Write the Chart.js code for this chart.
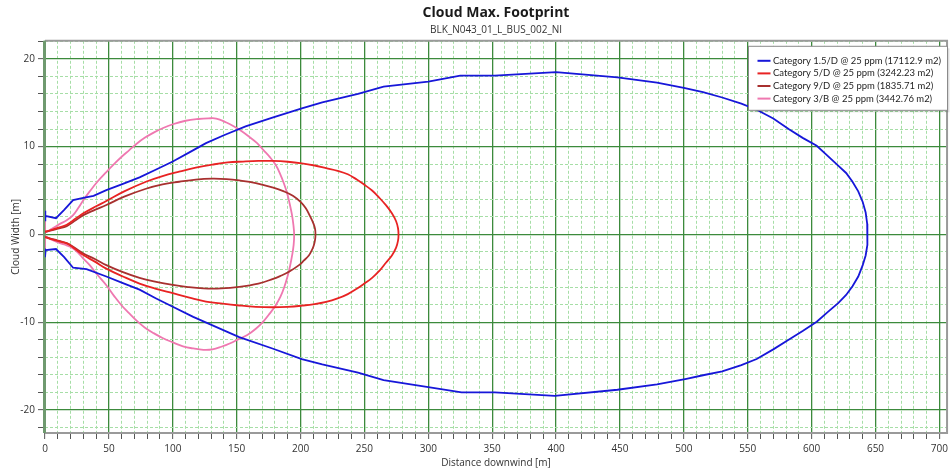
<!DOCTYPE html>
<html><head><meta charset="utf-8">
<script src="https://cdn.jsdelivr.net/npm/chart.js@4.4.0/dist/chart.umd.min.js"></script>
<style>html,body{margin:0;padding:0;background:#fff;}#wrap{width:952px;height:471px;}</style>
</head><body><div id="wrap"><canvas id="c" width="952" height="471"></canvas></div>
<script>
// ---------- data ----------
const chartTitle = 'Cloud Max. Footprint';
const chartSubtitle = 'BLK_N043_01_L_BUS_002_NI';
const xAxisTitle = 'Distance downwind [m]';
const yAxisTitle = 'Cloud Width [m]';
const seriesLabels = [
  'Category 1.5/D @ 25 ppm (17112.9 m2)',
  'Category 5/D @ 25 ppm (3242.23 m2)',
  'Category 9/D @ 25 ppm (1835.71 m2)',
  'Category 3/B @ 25 ppm (3442.76 m2)'
];
const seriesColors = ['#1717d9', '#e82323', '#a8302f', '#ef78b0'];

const cat15D_x = [0, 0, 0.5, 8.6, 15, 22, 30, 38, 48, 60, 74, 87, 100, 113, 126, 140, 157, 178, 201, 217, 245, 265, 300, 325, 352, 400, 448, 479, 500, 515, 530, 545, 557, 570, 582, 593, 604, 613, 621, 627, 632, 636.5, 640, 642.3, 643.5, 643.8,
  643.5, 642.3, 640, 636.5, 632, 627, 621, 613, 604, 593, 582, 570, 557, 545, 530, 515, 502, 479, 448, 399, 352, 326, 300, 265, 245, 217, 201, 178, 152, 116, 100, 87, 74, 60, 48, 32.5, 22, 15, 8.6, 0.5, 0, 0];
const cat15D_y = [1.6, 2.7, 2.1, 1.85, 2.8, 3.9, 4.15, 4.4, 5.05, 5.7, 6.5, 7.4, 8.3, 9.35, 10.4, 11.3, 12.3, 13.3, 14.35, 15.05, 16.0, 16.85, 17.4, 18.1, 18.1, 18.5, 17.9, 17.3, 16.7, 16.2, 15.6, 14.9, 14.2, 13.2, 12.0, 11.0, 10.1, 8.9, 7.8, 7.0, 6.0, 4.9, 3.7, 2.5, 1.2, 0,
  -1.2, -2.4, -3.5, -4.8, -5.9, -6.9, -7.8, -8.8, -9.95, -11.0, -12.0, -13.1, -14.2, -14.9, -15.6, -16.05, -16.45, -17.1, -17.7, -18.4, -18.0, -18.0, -17.4, -16.6, -15.75, -14.8, -14.2, -13.0, -11.7, -9.4, -8.25, -7.3, -6.3, -5.5, -4.8, -3.95, -3.8, -2.6, -1.67, -1.8, -2.6, -1.6];

const cat5D_x = [0, 5, 10, 17, 24, 30, 40, 48, 62, 79, 92, 105, 118, 131, 143, 155, 167, 178, 190, 201, 211, 220, 229, 237, 244, 250, 256, 261.5, 267, 271.5, 274.8, 276.3, 276.7,
  276.3, 274.8, 271.5, 267, 262, 256, 250, 244, 237, 229, 220, 211, 201, 190, 178, 165, 152, 139, 126, 113, 100, 87, 74, 61, 48, 39, 30, 23, 17, 10, 5, 0];
const cat5D_y = [0.3, 0.5, 0.75, 1.1, 1.8, 2.4, 3.2, 3.8, 4.9, 6.0, 6.65, 7.15, 7.6, 7.95, 8.2, 8.3, 8.37, 8.37, 8.28, 8.1, 7.85, 7.55, 7.25, 6.85, 6.25, 5.65, 5.0, 4.2, 3.3, 2.4, 1.5, 0.7, 0,
  -0.7, -1.5, -2.4, -3.2, -4.1, -4.95, -5.6, -6.2, -6.8, -7.3, -7.7, -7.95, -8.12, -8.25, -8.3, -8.25, -8.1, -7.9, -7.65, -7.2, -6.7, -6.2, -5.6, -4.8, -3.9, -3.1, -2.36, -1.6, -1.03, -0.75, -0.55, -0.3];

const cat9D_x = [0, 5, 10, 17, 24, 30, 39, 48, 62, 79, 92, 105, 118, 131, 142, 152, 165, 178, 187, 194, 200, 204, 207, 210.2, 211.4, 211.7,
  211.4, 210.3, 208.5, 206.5, 202.5, 198.8, 191, 184, 178, 167, 152, 138, 124, 112, 100, 87, 74, 61, 48, 39, 30, 23, 17, 10, 5, 0];
const cat9D_y = [0.3, 0.45, 0.65, 0.95, 1.6, 2.2, 2.8, 3.35, 4.3, 5.2, 5.7, 6.0, 6.25, 6.35, 6.3, 6.15, 5.85, 5.35, 4.9, 4.4, 3.7, 3.0, 2.2, 1.2, 0.6, 0,
  -0.6, -1.3, -1.9, -2.4, -3.0, -3.5, -4.25, -4.75, -5.1, -5.6, -5.97, -6.15, -6.15, -6.0, -5.75, -5.4, -4.95, -4.3, -3.5, -2.8, -2.17, -1.5, -1.0, -0.7, -0.5, -0.3];

const cat3B_x = [0, 0, 5, 11.7, 17, 22, 26, 30, 35, 41, 48, 54, 60, 66, 71.5, 78, 85, 92, 100, 110, 120, 128, 134, 142, 148, 154, 160, 166, 171, 176, 180.6, 184, 187, 189.5, 191.5, 193.2, 194.4, 195,
  194.6, 193.4, 191.8, 189.8, 187.3, 184.3, 180.6, 176, 171, 165, 158, 152, 145, 138, 131, 124, 116, 108, 100, 92, 85, 78, 71.5, 66, 60, 54, 48, 41, 35, 30, 26, 22, 17, 11.7, 5, 0, 0];
const cat3B_y = [2.0, 0.3, 0.6, 1.2, 1.6, 2.2, 3.0, 3.9, 4.9, 6.0, 7.1, 8.0, 8.85, 9.6, 10.3, 11.0, 11.6, 12.1, 12.55, 12.95, 13.15, 13.22, 13.2, 12.75, 12.3, 11.75, 11.1, 10.4, 9.6, 8.8, 7.9, 6.9, 5.8, 4.7, 3.5, 2.3, 1.1, 0,
  -1.2, -2.4, -3.6, -4.8, -6.0, -7.1, -8.07, -9.0, -9.9, -10.75, -11.5, -11.9, -12.4, -12.8, -13.1, -13.15, -13.0, -12.75, -12.3, -11.8, -11.25, -10.6, -9.8, -9.0, -8.1, -7.0, -5.8, -4.6, -3.5, -2.75, -2.1, -1.6, -1.25, -1.0, -0.6, -0.3, -2.3];

const xRange = [0, 706];
const yRange = [-22.63, 22.06];
const xTickStep = 10, xLabelStep = 50;
const yTickStep = 2, yLabelStep = 10;

// ---------- build ----------
const FONT = "'Open Sans', 'Noto Sans', sans-serif";
const LEGEND_FONT = "Lato, 'Open Sans', sans-serif";
const seriesX = [cat15D_x, cat5D_x, cat9D_x, cat3B_x];
const seriesY = [cat15D_y, cat5D_y, cat9D_y, cat3B_y];
const tensions = [0, 0.4, 0.4, 0.4];
const datasets = seriesLabels.map((lab, i) => ({
  label: lab,
  data: seriesX[i].map((x, j) => ({x: x, y: seriesY[i][j]})),
  borderColor: seriesColors[i],
  backgroundColor: seriesColors[i],
  borderWidth: 1.8,
  showLine: true,
  pointRadius: 0,
  tension: tensions[i],
  fill: false,
  order: i
}));

function isMajor(v, step) { return Math.abs(Math.round(v / step) * step - v) < 1e-6; }
function tickList(min, max, step) {
  const out = [];
  for (let v = Math.ceil(min / step) * step; v <= max + 1e-9; v += step) out.push({value: Math.round(v * 1000) / 1000});
  return out;
}

const legendPlugin = {
  id: 'insideLegend',
  afterDatasetsDraw(chart) {
    const ctx = chart.ctx, ca = chart.chartArea;
    ctx.save();
    ctx.font = '11px ' + LEGEND_FONT;
    const maxW = Math.max(...seriesLabels.map(t => ctx.measureText(t).width));
    const size = Math.min(11.5, 11 * 168 / maxW);
    ctx.font = size.toFixed(2) + 'px ' + LEGEND_FONT;
    const w = 199, h = 64, rowH = 12.6;
    const x0 = 748.5, y0 = ca.top + 5.5;
    ctx.fillStyle = 'rgba(0,0,0,0.12)';
    ctx.fillRect(x0 + 2, y0 + 2, w, h);
    ctx.fillStyle = '#fff';
    ctx.fillRect(x0, y0, w, h);
    ctx.strokeStyle = '#8a8a8a';
    ctx.lineWidth = 1;
    ctx.strokeRect(x0, y0, w, h);
    ctx.textBaseline = 'middle';
    ctx.textAlign = 'left';
    seriesLabels.forEach((t, i) => {
      const yy = y0 + 14.5 + i * rowH;
      ctx.strokeStyle = seriesColors[i];
      ctx.lineWidth = 2;
      ctx.beginPath(); ctx.moveTo(x0 + 9, yy); ctx.lineTo(x0 + 22, yy); ctx.stroke();
      ctx.fillStyle = '#1e1e1e';
      ctx.fillText(t, x0 + 24.5, yy);
    });
    ctx.restore();
  }
};

const framePlugin = {
  id: 'frame',
  beforeDatasetsDraw(chart) {
    const ctx = chart.ctx, ca = chart.chartArea;
    ctx.save();
    ctx.strokeStyle = '#9a9a9a';
    ctx.lineWidth = 2;
    ctx.beginPath();
    ctx.moveTo(ca.left, ca.top); ctx.lineTo(ca.right, ca.top); ctx.lineTo(ca.right, ca.bottom);
    ctx.lineTo(ca.left, ca.bottom);
    ctx.stroke();
    ctx.strokeStyle = '#6f9a6f';
    ctx.lineWidth = 3;
    ctx.beginPath(); ctx.moveTo(ca.left - 0.5, ca.top); ctx.lineTo(ca.left - 0.5, ca.bottom); ctx.stroke();
    ctx.restore();
  }
};

const MAJOR = '#3c8a3c', MINOR = '#a6dea6';

new Chart(document.getElementById('c'), {
  type: 'scatter',
  data: { datasets: datasets },
  plugins: [framePlugin, legendPlugin],
  options: {
    responsive: false,
    animation: false,
    devicePixelRatio: 1,
    layout: { padding: { left: 0, right: 2, top: 0, bottom: 0 } },
    plugins: {
      legend: { display: false },
      tooltip: { enabled: false },
      title: { display: true, fullSize: false, text: chartTitle, color: '#1a1a1a',
        font: { family: FONT, size: 14, weight: 'bold' }, padding: { top: 5, bottom: 1 } },
      subtitle: { display: true, fullSize: false, text: chartSubtitle, color: '#333',
        font: { family: FONT, size: 10 }, padding: { top: 1, bottom: 5 } }
    },
    scales: {
      x: {
        type: 'linear', min: xRange[0], max: xRange[1],
        afterBuildTicks: (s) => { s.ticks = tickList(xRange[0], xRange[1], xTickStep); },
        afterFit: (s) => { s.height = 38; },
        ticks: { autoSkip: false, maxRotation: 0, color: '#333', padding: 4,
          font: { family: FONT, size: 10 },
          callback: (v) => isMajor(v, xLabelStep) ? String(v) : '' },
        grid: {
          color: (c) => (c.tick && isMajor(c.tick.value, xLabelStep)) ? MAJOR : MINOR,
          lineWidth: (c) => (c.tick && isMajor(c.tick.value, xLabelStep)) ? 1.3 : 1,
          tickColor: '#555', tickLength: 6, tickWidth: 1
        },
        border: { display: false,
          dash: (c) => (c.tick && !isMajor(c.tick.value, xLabelStep)) ? [3, 2] : [] },
        title: { display: true, text: xAxisTitle, color: '#333',
          font: { family: FONT, size: 10 }, padding: { top: 0, bottom: 2 } }
      },
      y: {
        type: 'linear', min: yRange[0], max: yRange[1],
        afterBuildTicks: (s) => { s.ticks = tickList(yRange[0], yRange[1], yTickStep); },
        afterFit: (s) => { s.width = 45; },
        ticks: { autoSkip: false, color: '#333', padding: 3,
          font: { family: FONT, size: 10 },
          callback: (v) => isMajor(v, yLabelStep) ? String(v) : '' },
        grid: {
          color: (c) => (c.tick && isMajor(c.tick.value, yLabelStep)) ? MAJOR : MINOR,
          lineWidth: (c) => (c.tick && isMajor(c.tick.value, yLabelStep)) ? 1.3 : 1,
          tickColor: '#555', tickLength: 7, tickWidth: 1
        },
        border: { display: false,
          dash: (c) => (c.tick && !isMajor(c.tick.value, yLabelStep)) ? [3, 2] : [] },
        title: { display: true, text: yAxisTitle, color: '#333',
          font: { family: FONT, size: 10 }, padding: { top: 10, bottom: 0 } }
      }
    }
  }
});
</script>
</body></html>
